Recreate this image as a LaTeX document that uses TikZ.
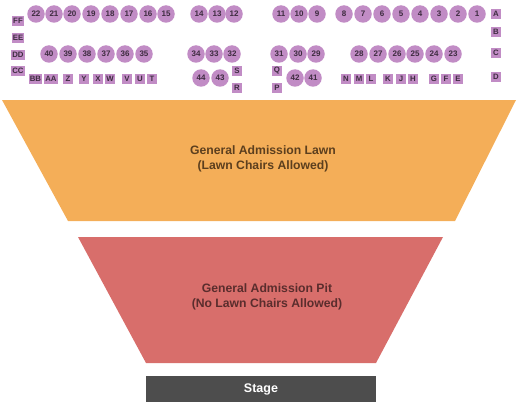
\documentclass[tikz,border=0pt]{standalone}
\usepackage{fontspec}
\setmainfont{Liberation Sans}
\usetikzlibrary{positioning}
\definecolor{seatfill}{HTML}{C18CC5}
\definecolor{seattext}{HTML}{3E2C40}
\definecolor{lawnfill}{HTML}{F4AE58}
\definecolor{lawntext}{HTML}{5C3F1E}
\definecolor{pitfill}{HTML}{D86E6B}
\definecolor{pittext}{HTML}{5A2D2D}
\definecolor{stagefill}{HTML}{4D4D4D}

\begin{document}
\begin{tikzpicture}[
  x=1pt,y=-1pt,
  seat/.style={circle, fill=seatfill, minimum size=17.5pt, inner sep=0pt, text=seattext, font=\bfseries\fontsize{8}{8}\selectfont},
  rowbox/.style={fill=seatfill, minimum width=9.5pt, minimum height=9.5pt, inner sep=1pt, text=seattext, font=\bfseries\fontsize{7.8}{7.8}\selectfont},
  area/.style={align=center, font=\bfseries\fontsize{12.2}{15}\selectfont}
]
\useasboundingbox (0,0) rectangle (525,420);
% seats, front row
\foreach \n/\x in {22/36,21/54,20/72,19/91,18/110,17/129,16/148,15/166,14/199,13/217,12/234,11/281,10/299,9/317,8/344,7/363,6/382,5/401,4/420,3/439,2/458,1/477}
  \node[seat] (s\n) at (\x,14) {\n};
% seats, second row
\foreach \n/\x in {40/49,39/68,38/87,37/106,36/125,35/144,34/196,33/214,32/232,31/279,30/298,29/316,28/359,27/378,26/397,25/415,24/434,23/453}
  \node[seat] (s\n) at (\x,54) {\n};
\foreach \n/\x in {44/201,43/220,42/295,41/313}
  \node[seat] (s\n) at (\x,78) {\n};
% lettered boxes
\foreach \n/\x in {BB/35.5,AA/51,Z/68,Y/84,X/98,W/110,V/127,U/140,T/152,N/346,M/359,L/371,K/388,J/401,H/413,G/434,F/446,E/458}
  \node[rowbox] (r\n) at (\x,79) {\n};
\foreach \n/\x/\y in {FF/18/21,EE/18/38,DD/18/55,CC/18/71,A/496/14,B/496/32,C/496/53,D/496/77,S/237/71,R/237/88,Q/277/71,P/277/88}
  \node[rowbox] (r\n) at (\x,\y) {\n};
% standing areas
\fill[lawnfill] (2,100) -- (516,100) -- (455,221) -- (68,221) -- cycle;
\node[area, text=lawntext] (lawn) at (263,159) {General Admission Lawn\\(Lawn Chairs Allowed)};
\fill[pitfill] (78,237) -- (443,237) -- (376,363) -- (146,363) -- cycle;
\node[area, text=pittext] (pit) at (267,297) {General Admission Pit\\(No Lawn Chairs Allowed)};
\node[fill=stagefill, minimum width=230pt, minimum height=26pt, inner sep=0pt, text=white, font=\bfseries\fontsize{12.5}{12.5}\selectfont] (stage) at (261,389) {Stage};
\end{tikzpicture}
\end{document}
